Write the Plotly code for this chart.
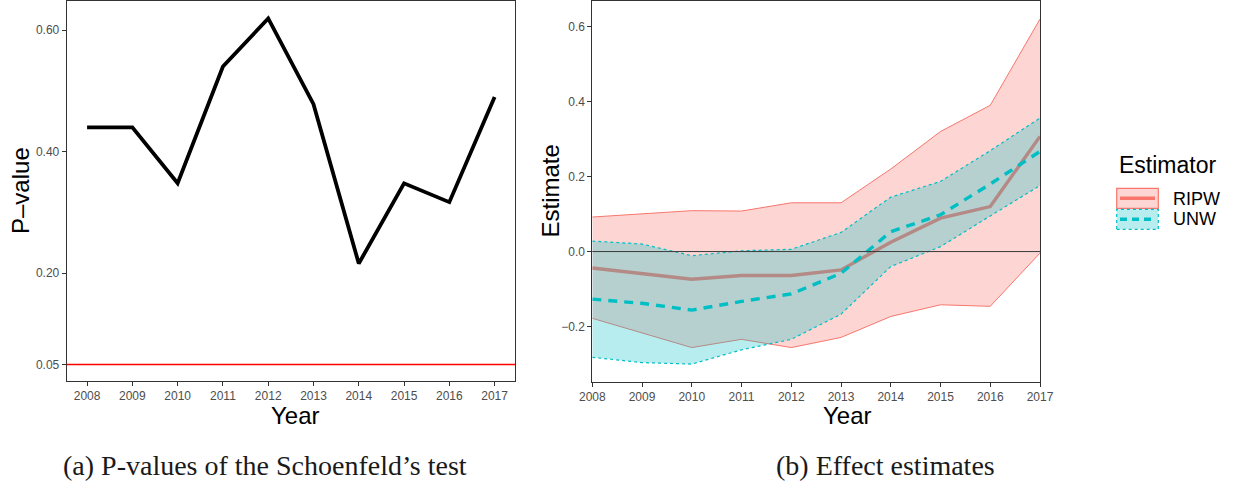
import plotly.graph_objects as go

W, H = 1233, 482

years = [2008, 2009, 2010, 2011, 2012, 2013, 2014, 2015, 2016, 2017]
pvalues = [0.440, 0.440, 0.348, 0.540, 0.619, 0.478, 0.216, 0.348, 0.317, 0.490]
p_threshold = 0.05

ripw_est = [-0.044, -0.058, -0.074, -0.064, -0.064, -0.049, 0.025, 0.089, 0.120, 0.307]
ripw_lo = [-0.178, -0.218, -0.256, -0.234, -0.256, -0.229, -0.173, -0.142, -0.146, -0.004]
ripw_hi = [0.092, 0.100, 0.109, 0.108, 0.130, 0.130, 0.220, 0.320, 0.390, 0.620]

unw_est = [-0.127, -0.138, -0.156, -0.133, -0.113, -0.058, 0.053, 0.098, 0.180, 0.267]
unw_lo = [-0.282, -0.296, -0.300, -0.262, -0.234, -0.167, -0.040, 0.013, 0.095, 0.176]
unw_hi = [0.028, 0.020, -0.011, 0.002, 0.006, 0.051, 0.145, 0.187, 0.269, 0.356]

left_yticks = [0.05, 0.20, 0.40, 0.60]
left_yticklabels = ["0.05", "0.20", "0.40", "0.60"]
right_yticks = [-0.2, 0.0, 0.2, 0.4, 0.6]
right_yticklabels = ["\u22120.2", "0.0", "0.2", "0.4", "0.6"]
year_labels = [str(y) for y in years]

RED = "#F8766D"
CYAN = "#00BFC4"
RED_FILL = "rgba(248,118,109,0.3)"
CYAN_FILL = "rgba(0,191,196,0.28)"


def px(x):
    return x / W


def py(y):
    return 1 - y / H


fig = go.Figure()

# Left panel
fig.add_trace(go.Scatter(x=years, y=pvalues, mode="lines",
                         line=dict(color="black", width=3.8),
                         xaxis="x", yaxis="y", showlegend=False))

# Right panel: RIPW ribbon + line
fig.add_trace(go.Scatter(x=years, y=ripw_lo, mode="lines",
                         line=dict(color=RED, width=1),
                         xaxis="x2", yaxis="y2", showlegend=False))
fig.add_trace(go.Scatter(x=years, y=ripw_hi, mode="lines", fill="tonexty",
                         fillcolor=RED_FILL, line=dict(color=RED, width=1),
                         xaxis="x2", yaxis="y2", showlegend=False))
fig.add_trace(go.Scatter(x=years, y=ripw_est, mode="lines",
                         line=dict(color=RED, width=3.4),
                         xaxis="x2", yaxis="y2", showlegend=False))
# UNW ribbon + line
fig.add_trace(go.Scatter(x=years, y=unw_lo, mode="lines",
                         line=dict(color=CYAN, width=1.2, dash="dot"),
                         xaxis="x2", yaxis="y2", showlegend=False))
fig.add_trace(go.Scatter(x=years, y=unw_hi, mode="lines", fill="tonexty",
                         fillcolor=CYAN_FILL, line=dict(color=CYAN, width=1.2, dash="dot"),
                         xaxis="x2", yaxis="y2", showlegend=False))
fig.add_trace(go.Scatter(x=years, y=unw_est, mode="lines",
                         line=dict(color=CYAN, width=3.4, dash="9px,7px"),
                         xaxis="x2", yaxis="y2", showlegend=False))

tickfont = dict(family="Liberation Sans, Arial, sans-serif", size=12, color="#4D4D4D")
axis_common = dict(showgrid=False, zeroline=False, showline=True, linecolor="#333333",
                   linewidth=1, mirror=True, ticks="outside", ticklen=4,
                   tickcolor="#333333", tickwidth=1, tickfont=tickfont, automargin=False)

fig.update_layout(
    template="none",
    width=W, height=H,
    margin=dict(l=0, r=0, t=0, b=0, pad=0, autoexpand=False),
    paper_bgcolor="white", plot_bgcolor="white",
    showlegend=False,
    xaxis=dict(domain=[px(66.7), px(515)], range=[2007.55, 2017.45], anchor="y",
               tickmode="array", tickvals=years, ticktext=year_labels, **axis_common),
    yaxis=dict(domain=[py(381), py(1)], range=[0.0229, 0.6477], anchor="x",
               tickmode="array", tickvals=left_yticks, ticktext=left_yticklabels, **axis_common),
    xaxis2=dict(domain=[px(592.3), px(1040)], range=[2008, 2017], anchor="y2",
                tickmode="array", tickvals=years, ticktext=year_labels, **axis_common),
    yaxis2=dict(domain=[py(381.7), py(1)], range=[-0.347, 0.668], anchor="x2",
                tickmode="array", tickvals=right_yticks, ticktext=right_yticklabels, **axis_common),
)

shapes = [
    dict(type="line", xref="x domain", yref="y", x0=0, x1=1, y0=p_threshold, y1=p_threshold,
         line=dict(color="#FF0000", width=1.3), layer="above"),
    dict(type="line", xref="x2 domain", yref="y2", x0=0, x1=1, y0=0, y1=0,
         line=dict(color="#3a3a3a", width=1), layer="above"),
    # manual legend keys
    dict(type="rect", xref="paper", yref="paper", x0=px(1116.7), x1=px(1158.3),
         y0=py(208.3), y1=py(188.3), fillcolor=RED_FILL, line=dict(color=RED, width=1.2)),
    dict(type="line", xref="paper", yref="paper", x0=px(1120), x1=px(1155),
         y0=py(198.3), y1=py(198.3), line=dict(color=RED, width=3.4)),
    dict(type="rect", xref="paper", yref="paper", x0=px(1116.7), x1=px(1158.3),
         y0=py(229.3), y1=py(209.3), fillcolor=CYAN_FILL,
         line=dict(color=CYAN, width=1.2, dash="dot")),
    dict(type="line", xref="paper", yref="paper", x0=px(1120), x1=px(1155),
         y0=py(219.3), y1=py(219.3), line=dict(color=CYAN, width=3.4, dash="7px,5px")),
]
fig.update_layout(shapes=shapes)

title_font = dict(family="Liberation Sans, Arial, sans-serif", size=24, color="black")
cap_font = dict(family="Liberation Serif, Times New Roman, serif", size=28, color="#1a1a1a")
ann = [
    dict(text="P\u2013value", x=px(21), y=py(191), textangle=-90, font=title_font),
    dict(text="Year", x=px(295.8), y=py(415.5), font=title_font),
    dict(text="Estimate", x=px(550.5), y=py(191), textangle=-90, font=title_font),
    dict(text="Year", x=px(847.5), y=py(415.5), font=title_font),
    dict(text="Estimator", x=px(1117), y=py(165), xanchor="left",
         font=dict(family="Liberation Sans, Arial, sans-serif", size=23, color="black")),
    dict(text="RIPW", x=px(1171), y=py(198.5), xanchor="left",
         font=dict(family="Liberation Sans, Arial, sans-serif", size=18, color="black")),
    dict(text="UNW", x=px(1171), y=py(219.5), xanchor="left",
         font=dict(family="Liberation Sans, Arial, sans-serif", size=18, color="black")),
    dict(text="(a) P-values of the Schoenfeld\u2019s test", x=px(265), y=py(465), font=cap_font),
    dict(text="(b) Effect estimates", x=px(885), y=py(465), font=cap_font),
]
for a in ann:
    a.setdefault("xanchor", "center")
    a.setdefault("yanchor", "middle")
    a.update(xref="paper", yref="paper", showarrow=False)
fig.update_layout(annotations=ann)

fig.write_html("out.html")
